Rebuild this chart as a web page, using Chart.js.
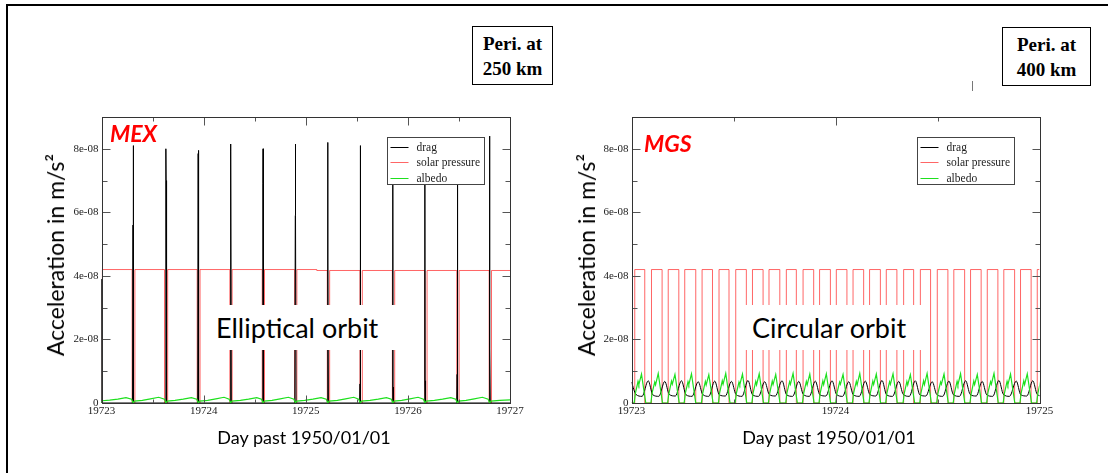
<!DOCTYPE html>
<html>
<head>
<meta charset="utf-8">
<script src="https://cdn.jsdelivr.net/npm/chart.js@4.4.1/dist/chart.umd.min.js"></script>
<style>
  html, body { margin: 0; padding: 0; background: #fff; }
  body { width: 1109px; height: 473px; position: relative; overflow: hidden; font-family: 'Lato', sans-serif; }
  canvas { position: absolute; }
  .abs { position: absolute; }
  .frame { left: 6px; top: 4px; width: 1100px; height: 500px; border-top: 2px solid #000; border-left: 2px solid #000; }
  .peri { box-sizing: border-box; border: 1px solid #000; background: #fff; text-align: center;
          font: bold 19px 'Liberation Serif', serif; line-height: 25px; padding-top: 4px; color: #000; }
  .orbit { background: #fff; height: 45px; line-height: 45px; font-size: 27px; color: #000; white-space: nowrap; }
  .craft { font: italic bold 23px 'Lato', sans-serif; color: #ff0000; line-height: 26px; }
  .ytitle { font-size: 23px; color: #000; white-space: nowrap; transform: translate(-50%, -50%) rotate(-90deg); }
  .xtitle { font-size: 18px; color: #000; white-space: nowrap; transform: translate(-50%, -50%); }
</style>
</head>
<body>
<div class="abs frame"></div>

<canvas id="mexChart" width="510" height="340" style="left:20px;top:100px"></canvas>
<canvas id="mgsChart" width="520" height="340" style="left:540px;top:100px"></canvas>

<div class="abs peri" style="left:472px;top:26px;width:81px;height:59px;">Peri. at<br>250 km</div>
<div class="abs peri" style="left:1002px;top:27px;width:89px;height:59px;">Peri. at<br>400 km</div>
<div class="abs" style="left:972px;top:81px;width:1px;height:10px;background:#777;"></div>

<div class="abs craft" style="left:110px;top:120px;">MEX</div>
<div class="abs craft" style="left:644px;top:130px;">MGS</div>

<div class="abs orbit" style="left:208px;top:305px;width:190px;"><span style="margin-left:8px">Elliptical orbit</span></div>
<div class="abs orbit" style="left:745px;top:305px;width:178px;"><span style="margin-left:7px">Circular orbit</span></div>

<div class="abs ytitle" style="left:55px;top:255px;">Acceleration in m/s²</div>
<div class="abs ytitle" style="left:586px;top:255px;">Acceleration in m/s²</div>
<div class="abs xtitle" style="left:304px;top:437px;">Day past 1950/01/01</div>
<div class="abs xtitle" style="left:829px;top:437px;">Day past 1950/01/01</div>

<script>
// tick labels (x in days after 19723, y in units of 1e-08 m/s^2)
const mexDays = ['19723', '19724', '19725', '19726', '19727'];
const mgsDays = ['19723', '19724', '19725'];
const accelTicks = ['0', '2e-08', '4e-08', '6e-08', '8e-08'];
const seriesNames = ['drag', 'solar pressure', 'albedo'];

// MEX (elliptical orbit)
const mexDragT = [
  0, 0.004,
  0.304, 0.3085, 0.310, 0.3115, 0.316,
  0.625, 0.6295, 0.631, 0.6325, 0.637,
  0.942, 0.9465, 0.948, 0.9495, 0.954,
  1.259, 1.2635, 1.265, 1.2665, 1.271,
  1.576, 1.5805, 1.582, 1.5835, 1.588,
  1.893, 1.8975, 1.899, 1.9005, 1.905,
  2.210, 2.2145, 2.216, 2.2175, 2.222,
  2.527, 2.5315, 2.533, 2.5345, 2.539,
  2.847, 2.8515, 2.853, 2.8545, 2.859,
  3.161, 3.1655, 3.167, 3.1685, 3.173,
  3.478, 3.4825, 3.484, 3.4855, 3.490,
  3.795, 3.7995, 3.801, 3.8025, 3.807,
  4.0
];
const mexDragV = [
  3.9, 0,
  0, 5.6, 8.1, 5.6, 0,
  0, 7.0, 8.0, 7.0, 0,
  0, 7.85, 7.95, 7.85, 0,
  0, 7.9, 8.15, 7.9, 0,
  0, 6.9, 8.0, 6.9, 0,
  0, 5.9, 8.15, 5.9, 0,
  0, 4.5, 8.2, 4.5, 0,
  0, 0.6, 8.1, 0.6, 0,
  0, 0.5, 8.0, 0.5, 0,
  0, 0.7, 8.0, 0.7, 0,
  0, 0.9, 8.0, 0.9, 0,
  0, 1.7, 8.4, 1.7, 0,
  0
];
const mexSolarT = [0, 0.008, 0.300, 0.327, 0.617, 0.648, 0.937, 0.965, 1.257, 1.279, 1.574, 1.596,
  1.891, 1.913, 2.108, 2.211, 2.234, 2.531, 2.554, 2.848, 2.871, 3.165, 3.188, 3.479, 3.502, 3.796, 3.819, 4.0];
const mexSolarV = [0, 4.2, 0, 4.2, 0, 4.2, 0, 4.2, 0, 4.2, 0, 4.2,
  0, 4.2, 4.17, 0, 4.17, 0, 4.17, 0, 4.17, 0, 4.17, 0, 4.17, 0, 4.17, 4.17];
const mexAlbedoT = [
  0, 0.01, 0.08, 0.16, 0.24, 0.295, 0.310, 0.322,
  0.40, 0.48, 0.56, 0.616, 0.631, 0.643,
  0.72, 0.80, 0.88, 0.933, 0.948, 0.960,
  1.04, 1.12, 1.20, 1.250, 1.265, 1.277,
  1.36, 1.44, 1.52, 1.567, 1.582, 1.594,
  1.67, 1.75, 1.83, 1.884, 1.899, 1.911,
  1.99, 2.07, 2.15, 2.201, 2.216, 2.228,
  2.31, 2.39, 2.47, 2.518, 2.533, 2.545,
  2.63, 2.71, 2.79, 2.838, 2.853, 2.865,
  2.94, 3.02, 3.10, 3.152, 3.167, 3.179,
  3.26, 3.34, 3.42, 3.469, 3.484, 3.496,
  3.57, 3.65, 3.73, 3.786, 3.801, 3.813,
  3.90, 4.0
];
const mexAlbedoV = [
  0.02, 0.07, 0.09, 0.12, 0.17, 0.12, 0, 0.06,
  0.08, 0.13, 0.18, 0.12, 0, 0.06,
  0.08, 0.12, 0.17, 0.12, 0, 0.06,
  0.08, 0.13, 0.18, 0.12, 0, 0.06,
  0.08, 0.12, 0.17, 0.12, 0, 0.06,
  0.08, 0.13, 0.18, 0.12, 0, 0.06,
  0.08, 0.12, 0.17, 0.12, 0, 0.06,
  0.08, 0.13, 0.18, 0.12, 0, 0.06,
  0.08, 0.12, 0.17, 0.12, 0, 0.06,
  0.08, 0.13, 0.18, 0.12, 0, 0.06,
  0.08, 0.12, 0.17, 0.12, 0, 0.06,
  0.08, 0.13, 0.18, 0.12, 0, 0.06,
  0.08, 0.1
];

// MGS (circular orbit)
const mgsDragT = [
  0, 0.022, 0.052,   0.082, 0.104, 0.134,   0.163, 0.185, 0.215,   0.245, 0.267, 0.297,
  0.327, 0.349, 0.379,   0.408, 0.430, 0.460,   0.490, 0.512, 0.542,   0.571, 0.593, 0.623,
  0.653, 0.675, 0.705,   0.738, 0.760, 0.790,   0.820, 0.842, 0.872,   0.901, 0.923, 0.953,
  0.983, 1.005, 1.035,   1.065, 1.087, 1.117,   1.146, 1.168, 1.198,   1.228, 1.250, 1.280,
  1.310, 1.332, 1.362,   1.391, 1.413, 1.443,   1.474, 1.496, 1.526,   1.556, 1.578, 1.608,
  1.638, 1.660, 1.690,   1.719, 1.741, 1.771,   1.801, 1.823, 1.853,   1.886, 1.908, 1.938,
  1.967, 1.989, 2.019
];
const mgsDragV = [
  0.66, 0.27, 0.21,   0.70, 0.26, 0.21,   0.68, 0.27, 0.22,   0.70, 0.26, 0.21,
  0.67, 0.27, 0.21,   0.69, 0.26, 0.22,   0.68, 0.27, 0.21,   0.71, 0.26, 0.21,
  0.67, 0.27, 0.22,   0.70, 0.26, 0.21,   0.68, 0.27, 0.21,   0.69, 0.26, 0.22,
  0.70, 0.27, 0.21,   0.67, 0.26, 0.21,   0.69, 0.27, 0.22,   0.71, 0.26, 0.21,
  0.68, 0.27, 0.21,   0.70, 0.26, 0.22,   0.67, 0.27, 0.21,   0.69, 0.26, 0.21,
  0.70, 0.27, 0.22,   0.68, 0.26, 0.21,   0.71, 0.27, 0.21,   0.69, 0.26, 0.22,
  0.70, 0.27, 0.21
];
const mgsSolarT = [0, 0.016, 0.065, 0.098, 0.150, 0.180, 0.232, 0.261, 0.315, 0.346, 0.397, 0.429,
  0.478, 0.511, 0.563, 0.593, 0.645, 0.674, 0.727, 0.759, 0.808, 0.841, 0.893, 0.922, 0.975, 1.004,
  1.056, 1.086, 1.138, 1.167, 1.220, 1.249, 1.301, 1.334, 1.383, 1.416, 1.466, 1.499, 1.551, 1.580,
  1.633, 1.662, 1.714, 1.744, 1.796, 1.825, 1.878, 1.907, 1.959, 1.989, 2.0];
const mgsSolarV = [0, 4.2, 0, 4.2, 0, 4.2, 0, 4.2, 0, 4.2, 0, 4.2,
  0, 4.2, 0, 4.2, 0, 4.2, 0, 4.2, 0, 4.2, 0, 4.2, 0, 4.2,
  0, 4.2, 0, 4.2, 0, 4.2, 0, 4.2, 0, 4.2, 0, 4.2, 0, 4.2,
  0, 4.2, 0, 4.2, 0, 4.2, 0, 4.2, 0, 4.2, 4.2];
const mgsAlbedoT = [
  0,
  0.013, 0.019, 0.032, 0.036, 0.049, 0.070,
  0.095, 0.101, 0.114, 0.118, 0.131, 0.152,
  0.177, 0.183, 0.196, 0.200, 0.213, 0.234,
  0.258, 0.264, 0.277, 0.281, 0.294, 0.315,
  0.343, 0.349, 0.362, 0.366, 0.379, 0.400,
  0.426, 0.432, 0.445, 0.449, 0.462, 0.483,
  0.508, 0.514, 0.527, 0.531, 0.544, 0.565,
  0.590, 0.596, 0.609, 0.613, 0.626, 0.647,
  0.671, 0.677, 0.690, 0.694, 0.707, 0.728,
  0.756, 0.762, 0.775, 0.779, 0.792, 0.813,
  0.838, 0.844, 0.857, 0.861, 0.874, 0.895,
  0.919, 0.925, 0.938, 0.942, 0.955, 0.976,
  1.001, 1.007, 1.020, 1.024, 1.037, 1.058,
  1.083, 1.089, 1.102, 1.106, 1.119, 1.140,
  1.164, 1.170, 1.183, 1.187, 1.200, 1.221,
  1.246, 1.252, 1.265, 1.269, 1.282, 1.303,
  1.331, 1.337, 1.350, 1.354, 1.367, 1.388,
  1.413, 1.419, 1.432, 1.436, 1.449, 1.470,
  1.496, 1.502, 1.515, 1.519, 1.532, 1.553,
  1.577, 1.583, 1.596, 1.600, 1.613, 1.634,
  1.659, 1.665, 1.678, 1.682, 1.695, 1.716,
  1.741, 1.747, 1.760, 1.764, 1.777, 1.798,
  1.822, 1.828, 1.841, 1.845, 1.858, 1.879,
  1.904, 1.910, 1.923, 1.927, 1.940, 1.961,
  1.986, 1.992, 2.005
];
const mgsAlbedoV = [
  0,
  0, 0.30, 0.68, 0.58, 0.91, 0,
  0, 0.32, 0.66, 0.57, 0.93, 0,
  0, 0.29, 0.69, 0.59, 0.90, 0,
  0, 0.31, 0.67, 0.58, 0.92, 0,
  0, 0.30, 0.68, 0.57, 0.89, 0,
  0, 0.32, 0.70, 0.59, 0.93, 0,
  0, 0.30, 0.66, 0.58, 0.91, 0,
  0, 0.31, 0.68, 0.57, 0.92, 0,
  0, 0.29, 0.69, 0.58, 0.90, 0,
  0, 0.32, 0.67, 0.59, 0.93, 0,
  0, 0.30, 0.68, 0.57, 0.91, 0,
  0, 0.31, 0.70, 0.58, 0.92, 0,
  0, 0.30, 0.66, 0.59, 0.90, 0,
  0, 0.32, 0.68, 0.57, 0.93, 0,
  0, 0.29, 0.69, 0.58, 0.91, 0,
  0, 0.31, 0.67, 0.59, 0.92, 0,
  0, 0.30, 0.68, 0.57, 0.89, 0,
  0, 0.32, 0.70, 0.58, 0.93, 0,
  0, 0.30, 0.66, 0.59, 0.91, 0,
  0, 0.31, 0.68, 0.57, 0.92, 0,
  0, 0.29, 0.69, 0.58, 0.90, 0,
  0, 0.32, 0.67, 0.59, 0.93, 0,
  0, 0.30, 0.68, 0.57, 0.91, 0,
  0, 0.31, 0.70, 0.58, 0.92, 0,
  0, 0.30, 0.68
];

// tick positions for the inward tick marks
const yMajor = [0, 2, 4, 6, 8];
const yMinor = [1, 3, 5, 7];

function pts(t, v) {
  return t.map((x, i) => ({ x: x, y: v[i] }));
}

// frame, inward ticks on all four sides, and the boxed legend inside the plot
const plotFrame = {
  id: 'plotFrame',
  afterDatasetsDraw(chart, args, opts) {
    const { ctx, chartArea: a, scales: { x, y } } = chart;
    const L = Math.round(a.left) + 0.5, R = Math.round(a.right) + 0.5;
    const T = Math.round(a.top) + 0.5, B = Math.round(a.bottom) + 0.5;
    ctx.save();
    ctx.lineWidth = 1;
    ctx.strokeStyle = '#555';
    const line = (x1, y1, x2, y2) => { ctx.beginPath(); ctx.moveTo(x1, y1); ctx.lineTo(x2, y2); ctx.stroke(); };
    opts.xMajor.forEach(v => { const px = Math.round(x.getPixelForValue(v)) + 0.5; line(px, B, px, B - 8); line(px, T, px, T + 8); });
    opts.xMinor.forEach(v => { const px = Math.round(x.getPixelForValue(v)) + 0.5; line(px, B, px, B - 4); line(px, T, px, T + 4); });
    yMajor.forEach(v => { const py = Math.round(y.getPixelForValue(v)) + 0.5; line(L, py, L + 8, py); line(R, py, R - 8, py); });
    yMinor.forEach(v => { const py = Math.round(y.getPixelForValue(v)) + 0.5; line(L, py, L + 5, py); line(R, py, R - 5, py); });
    ctx.strokeStyle = '#333';
    ctx.strokeRect(L, T, R - L, B - T);

    // legend box
    const bw = 97, bh = 47;
    const bx = Math.round(a.right - 26 - bw) + 0.5, by = Math.round(a.top + 20) + 0.5;
    ctx.fillStyle = '#fff';
    ctx.fillRect(bx, by, bw, bh);
    ctx.strokeStyle = '#444';
    ctx.strokeRect(bx, by, bw, bh);
    ctx.font = '11.5px "Liberation Serif", serif';
    ctx.textBaseline = 'middle';
    chart.data.datasets.forEach((ds, i) => {
      const ly = Math.round(by + 9 + i * 15.5) + 0.5;
      ctx.strokeStyle = ds.borderColor;
      line(bx + 3, ly, bx + 21, ly);
      ctx.fillStyle = '#222';
      ctx.fillText(ds.label, bx + 29, ly);
    });
    ctx.restore();
  }
};

function buildChart(id, o) {
  return new Chart(document.getElementById(id), {
    type: 'line',
    data: {
      datasets: [
        { label: seriesNames[0], data: pts(o.dragT, o.dragV), borderColor: '#000000', borderWidth: 1,
          pointRadius: 0, order: 2, cubicInterpolationMode: o.smoothDrag ? 'monotone' : 'default' },
        { label: seriesNames[1], data: pts(o.solarT, o.solarV), borderColor: 'rgba(255,20,20,0.65)', borderWidth: 1,
          pointRadius: 0, order: 3, stepped: 'before' },
        { label: seriesNames[2], data: pts(o.albedoT, o.albedoV), borderColor: '#1ee01e', borderWidth: 1.2,
          pointRadius: 0, order: 1 }
      ]
    },
    options: {
      responsive: false,
      devicePixelRatio: 1,
      animation: false,
      events: [],
      layout: { padding: { left: 0, right: o.padRight, top: 17, bottom: 0 } },
      scales: {
        x: {
          type: 'linear', min: 0, max: o.days.length - 1,
          grid: { display: false, drawTicks: false },
          border: { display: false },
          ticks: {
            stepSize: 1, padding: 2, color: '#222', maxRotation: 0, autoSkip: false,
            font: { family: 'Liberation Serif', size: 11 },
            callback: v => o.days[Math.round(v)] ?? ''
          },
          afterFit: s => { s.height = 37; }
        },
        y: {
          type: 'linear', min: 0, max: 9,
          grid: { display: false, drawTicks: false },
          border: { display: false },
          ticks: {
            stepSize: 2, includeBounds: false, padding: 3, color: '#222',
            font: { family: 'Liberation Serif', size: 11 },
            callback: v => (v % 2 === 0 ? accelTicks[v / 2] : '') ?? ''
          },
          afterFit: s => { s.width = o.yWidth; }
        }
      },
      plugins: {
        legend: { display: false },
        tooltip: { enabled: false },
        plotFrame: { xMajor: o.xMajor, xMinor: o.xMinor }
      }
    },
    plugins: [plotFrame]
  });
}

buildChart('mexChart', {
  days: mexDays, dragT: mexDragT, dragV: mexDragV, solarT: mexSolarT, solarV: mexSolarV,
  albedoT: mexAlbedoT, albedoV: mexAlbedoV, smoothDrag: false,
  xMajor: [0, 1, 2, 3, 4], xMinor: [0.5, 1.5, 2.5, 3.5], yWidth: 81.5, padRight: 20
});
buildChart('mgsChart', {
  days: mgsDays, dragT: mgsDragT, dragV: mgsDragV, solarT: mgsSolarT, solarV: mgsSolarV,
  albedoT: mgsAlbedoT, albedoV: mgsAlbedoV, smoothDrag: true,
  xMajor: [0, 1, 2], xMinor: [0.5, 1.5], yWidth: 91.5, padRight: 20.5
});
</script>
</body>
</html>
